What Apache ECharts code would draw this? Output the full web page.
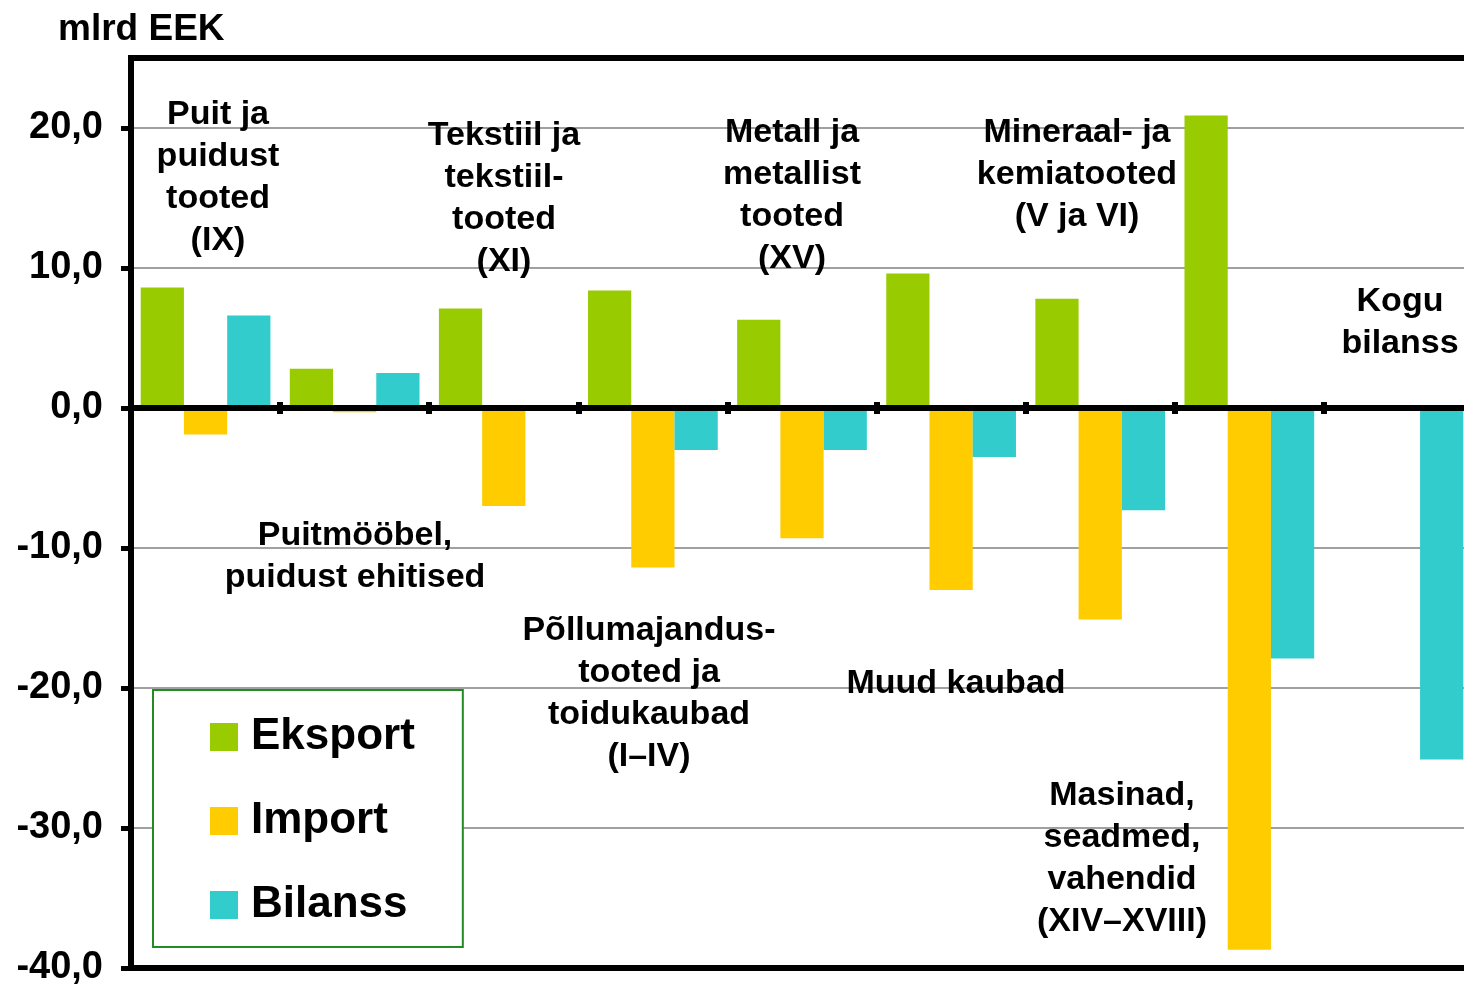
<!DOCTYPE html>
<html>
<head>
<meta charset="utf-8">
<title>Kaubavahetus kaubagruppide kaupa</title>
<script src="https://cdn.jsdelivr.net/npm/echarts@6/dist/echarts.min.js"></script>
<style>
  html, body { margin: 0; padding: 0; background: #fff; overflow: hidden; }
  /* graafik on aknast veidi laiem, parem serv jääb pildist välja */
  #chart { width: 1480px; height: 989px; }
</style>
</head>
<body>
<div id="chart"></div>
<script>
// kaubagrupid (x-telg)
const categories = [
  'Puit ja puidust tooted (IX)',
  'Puitmööbel, puidust ehitised',
  'Tekstiil ja tekstiiltooted (XI)',
  'Põllumajandustooted ja toidukaubad (I–IV)',
  'Metall ja metallist tooted (XV)',
  'Muud kaubad',
  'Mineraal- ja kemiatooted (V ja VI)',
  'Masinad, seadmed, vahendid (XIV–XVIII)',
  'Kogu bilanss'
];

// mlrd EEK
const eksport = [8.6, 2.8, 7.1, 8.4, 6.3, 9.6, 7.8, 20.9, null];
const importVals = [-1.9, -0.3, -7.0, -11.4, -9.3, -13.0, -15.1, -38.7, null];
const bilanss = [6.6, 2.5, 0.2, -3.0, -3.0, -3.5, -7.3, -17.9, -25.1];

const yTicks = [-40, -30, -20, -10, 0, 10, 20];

const FONT = '"Liberation Sans", Arial, Helvetica, sans-serif';

// tekstisildid graafiku sees
const annotations = [
  { x: 218, y: 115, text: 'Puit ja\npuidust\ntooted\n(IX)' },
  { x: 504, y: 136, text: 'Tekstiil ja\ntekstiil-\ntooted\n(XI)' },
  { x: 792, y: 133, text: 'Metall ja\nmetallist\ntooted\n(XV)' },
  { x: 1077, y: 133, text: 'Mineraal- ja\nkemiatooted\n(V ja VI)' },
  { x: 1400, y: 302, text: 'Kogu\nbilanss' },
  { x: 355, y: 536, text: 'Puitmööbel,\npuidust ehitised' },
  { x: 649, y: 631, text: 'Põllumajandus-\ntooted ja\ntoidukaubad\n(I–IV)' },
  { x: 956, y: 684, text: 'Muud kaubad' },
  { x: 1122, y: 796, text: 'Masinad,\nseadmed,\nvahendid\n(XIV–XVIII)' }
];

const chart = echarts.init(document.getElementById('chart'));

// nulljoon: alumine telg joonega, ülemine ainult kriipsudega (kriipsud mõlemale poole)
const zeroAxis = (position, yIndex) => ({
  type: 'category',
  position: position,
  data: categories,
  z: 5,
  axisLine: {
    show: position === 'bottom',
    onZero: true,
    onZeroAxisIndex: yIndex,
    lineStyle: { color: '#000', width: 6 }
  },
  axisTick: {
    show: true,
    interval: 0,
    length: 6,
    lineStyle: { color: '#000', width: 6 }
  },
  axisLabel: { show: false, interval: 0 },
  splitLine: { show: false }
});

const yBase = {
  type: 'value',
  min: -40,
  max: 25,
  interval: 10
};

const option = {
  animation: false,
  backgroundColor: '#fff',
  textStyle: { fontFamily: FONT },
  title: {
    text: 'mlrd EEK',
    left: 53,
    top: 6,
    textStyle: { fontSize: 37, fontWeight: 'bold', color: '#000', fontFamily: FONT }
  },
  legend: {
    orient: 'vertical',
    left: 153,
    top: 690,
    padding: [25, 48, 20, 57],
    itemGap: 40,
    itemWidth: 28,
    itemHeight: 28,
    icon: 'rect',
    borderColor: '#228B22',
    borderWidth: 2,
    backgroundColor: '#fff',
    textStyle: {
      fontSize: 44,
      fontWeight: 'bold',
      color: '#000',
      fontFamily: FONT,
      padding: [0, 0, 0, 8]
    },
    data: ['Eksport', 'Import', 'Bilanss']
  },
  grid: {
    left: 131,
    right: 7,
    top: 58,
    bottom: 21,
    show: true,
    borderColor: '#000',
    borderWidth: 6,
    containLabel: false
  },
  xAxis: [zeroAxis('bottom', 0), zeroAxis('top', 1)],
  yAxis: [
    Object.assign({}, yBase, {
      axisLine: { show: true, lineStyle: { color: '#000', width: 6 } },
      axisTick: {
        show: true,
        customValues: yTicks,
        length: 10,
        lineStyle: { color: '#000', width: 5 }
      },
      axisLabel: {
        customValues: yTicks,
        margin: 28,
        fontSize: 38,
        fontWeight: 'bold',
        color: '#000',
        fontFamily: FONT,
        padding: [6, 0, 0, 0],
        formatter: (v) => v.toFixed(1).replace('.', ',')
      },
      splitLine: {
        show: true,
        showMinLine: false,
        showMaxLine: true,
        lineStyle: { color: '#808080', width: 1.5 }
      }
    }),
    // abitelg ülemise kriipsurea jaoks
    Object.assign({}, yBase, {
      show: false,
      splitLine: { show: false }
    })
  ],
  series: [
    {
      name: 'Eksport',
      type: 'bar',
      data: eksport,
      barGap: 0,
      barCategoryGap: '13%',
      itemStyle: { color: '#99CC00' }
    },
    {
      name: 'Import',
      type: 'bar',
      data: importVals,
      itemStyle: { color: '#FFCC00' }
    },
    {
      name: 'Bilanss',
      type: 'bar',
      data: bilanss,
      itemStyle: { color: '#33CCCC' }
    }
  ],
  graphic: annotations.map(a => ({
    type: 'text',
    z: 10,
    style: {
      x: a.x,
      y: a.y - 21,
      text: a.text,
      textAlign: 'center',
      textVerticalAlign: 'top',
      lineHeight: 42,
      font: 'bold 34px ' + FONT,
      fill: '#000'
    }
  }))
};

chart.setOption(option);
</script>
</body>
</html>
